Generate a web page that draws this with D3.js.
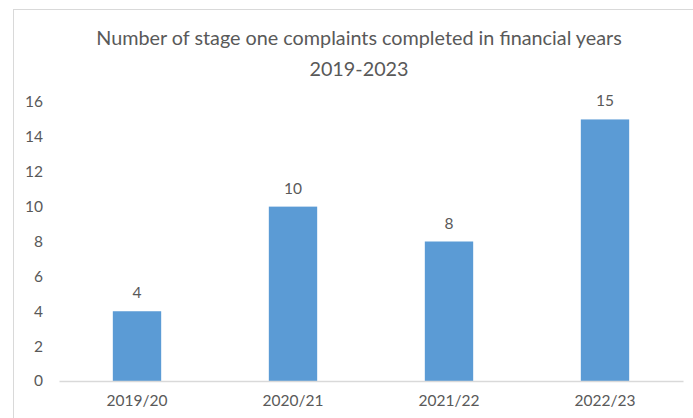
<!DOCTYPE html>
<html>
<head>
<meta charset="utf-8">
<script src="https://cdn.jsdelivr.net/npm/d3@7"></script>
<style>
  body { margin: 0; background: #fff; }
  text { font-family: Lato, "Open Sans", sans-serif; fill: #595959; }
</style>
</head>
<body>
<div id="chart"></div>
<script>
const years = ["2019/20", "2020/21", "2021/22", "2022/23"];
const complaints = [4, 10, 8, 15];
const yTicks = [0, 2, 4, 6, 8, 10, 12, 14, 16];
const titleLines = ["Number of stage one complaints completed in financial years", "2019-2023"];

const width = 693, height = 418;
const BAR_COLOR = "#5B9BD5";

let svg = d3.select("#chart")
  .append("svg")
  .attr("width", width)
  .attr("height", height);

// chart frame (right and bottom edges fall outside the picture)
svg.append("rect")
  .attr("x", 13.5).attr("y", 9.5)
  .attr("width", 720).attr("height", 430)
  .attr("fill", "#fff")
  .attr("stroke", "#D9D9D9");

let x = d3.scaleBand()
  .domain(years)
  .range([59, 683])
  .paddingInner(0.69)
  .paddingOuter(0.345);

let y = d3.scaleLinear()
  .domain([0, 16])
  .range([381, 102]);

// title
svg.append("text")
  .attr("x", 359)
  .attr("text-anchor", "middle")
  .attr("font-size", "19.8px")
  .selectAll("tspan")
  .data(titleLines)
  .join("tspan")
  .attr("x", 359)
  .attr("y", (d, i) => 45 + i * 31)
  .text(d => d);

// y axis labels, no line
let yAxis = svg.append("g")
  .attr("transform", "translate(45,0)")
  .call(d3.axisLeft(y).tickValues(yTicks).tickSize(0).tickPadding(2));
yAxis.select(".domain").remove();
yAxis.selectAll("text")
  .attr("font-size", "15.5px")
  .attr("font-family", null)
  .attr("fill", null);

// bars
svg.selectAll("rect.bar")
  .data(complaints)
  .join("rect")
  .attr("class", "bar")
  .attr("x", (d, i) => x(years[i]))
  .attr("y", d => y(d))
  .attr("width", x.bandwidth())
  .attr("height", d => y(0) - y(d))
  .attr("fill", BAR_COLOR);

// value labels
svg.selectAll("text.val")
  .data(complaints)
  .join("text")
  .attr("class", "val")
  .attr("x", (d, i) => x(years[i]) + x.bandwidth() / 2)
  .attr("y", d => y(d) - 13)
  .attr("text-anchor", "middle")
  .attr("font-size", "15.5px")
  .text(d => d);

// x axis
let xAxis = svg.append("g")
  .attr("transform", "translate(0,381)")
  .call(d3.axisBottom(x).tickSize(0).tickPadding(14));
xAxis.select(".domain").attr("stroke", "#D9D9D9").attr("stroke-width", 1.5);
xAxis.selectAll("text")
  .attr("font-size", "15.5px")
  .attr("font-family", null)
  .attr("fill", null);
</script>
</body>
</html>
